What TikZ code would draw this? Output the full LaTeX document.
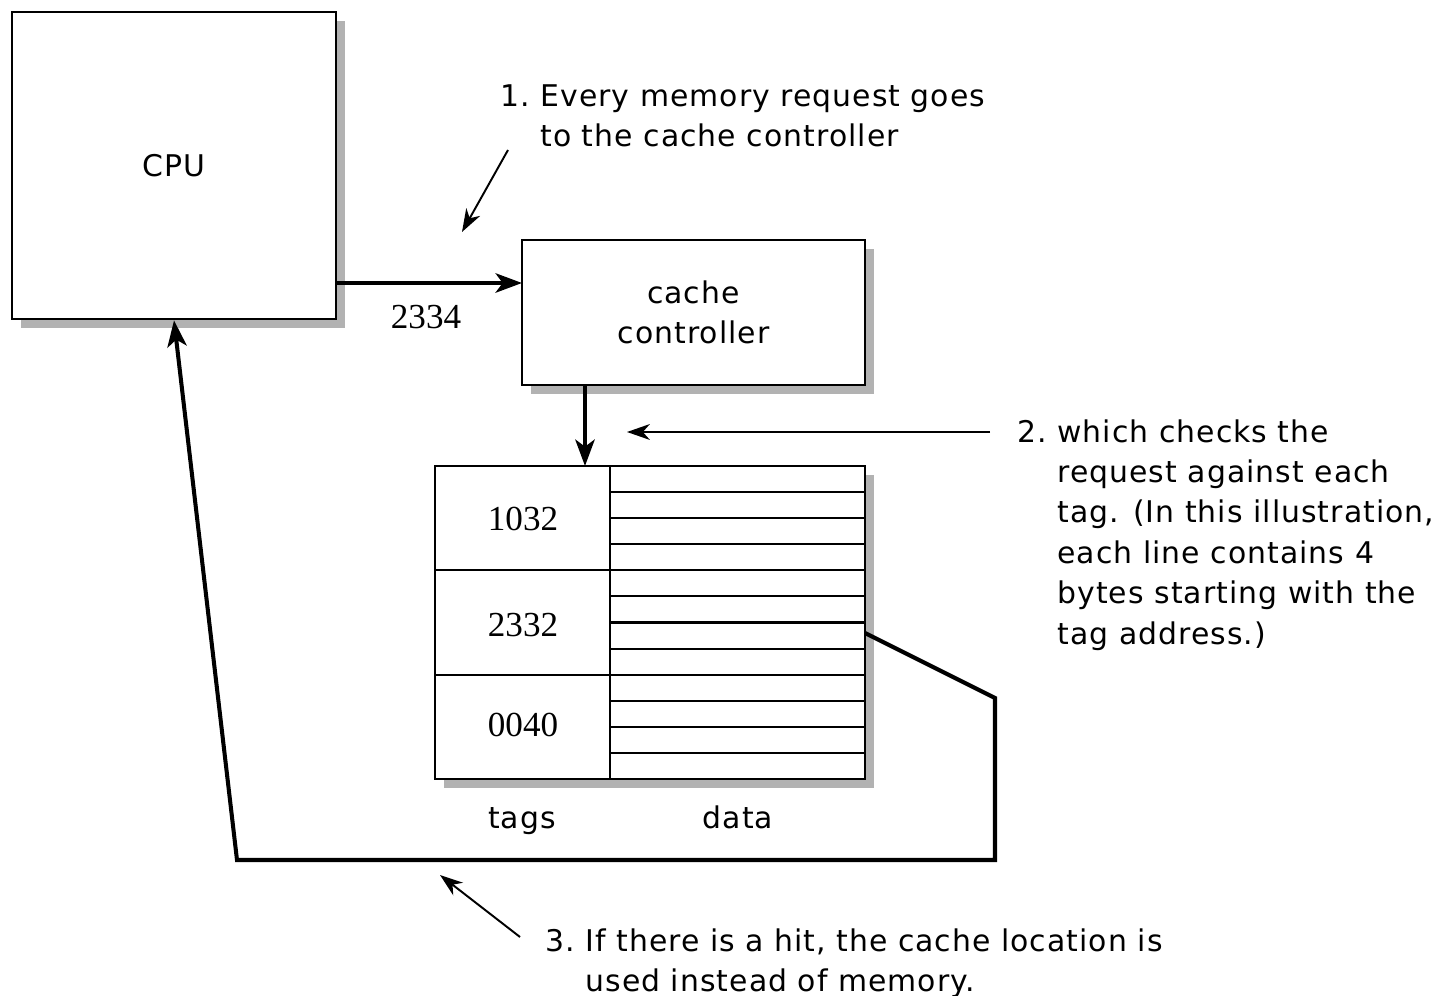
\documentclass[tikz,border=0pt]{standalone}
\usepackage{fontspec}
\setmainfont[LetterSpace=3.5]{DejaVu Sans}
\newfontfamily\numfont{Liberation Serif}
\usetikzlibrary{arrows.meta,shadows}
\newcommand{\ind}[1]{\phantom{#1.~}}

\begin{document}
\begin{tikzpicture}[x=0.02cm, y=-0.02cm,
    every node/.style={font=\fontsize{17}{23}\selectfont},
    box/.style={draw, line width=1.6pt, fill=white, inner sep=0pt,
        drop shadow={shadow xshift=0.18cm, shadow yshift=-0.18cm, fill=gray!60, opacity=1}},
    bus/.style={line width=2.3pt, line join=miter, -{Stealth[length=15pt, width=11pt, inset=4pt]}},
    pointer/.style={line width=1.1pt, -{Stealth[length=13pt, width=9pt, inset=4pt]}},
    note/.style={align=left, inner sep=0pt, anchor=north west},
    num/.style={font=\numfont\fontsize{20}{23}\selectfont}]
\useasboundingbox (0,0) rectangle (1445,996);

\node[box, minimum width=6.48cm, minimum height=6.14cm] (cpu) at (174,165.5) {CPU};
\node[box, minimum width=6.86cm, minimum height=2.9cm, align=center] (ctrl) at (693.5,312.5) {cache\\controller};
\node[box, minimum width=8.6cm, minimum height=6.26cm] (tbl) at (650,622.5) {};

\foreach \k in {1,...,11}
    \draw[line width=1.2pt] (610,466+26.08*\k) -- (865,466+26.08*\k);
\foreach \k in {4,8}
    \draw[line width=1.2pt] (435,466+26.08*\k) -- (610,466+26.08*\k);
\draw[line width=1.6pt] (610,466) -- (610,779);

\node[num] (t1) at (523,519) {1032};
\node[num] (t2) at (523,625) {2332};
\node[num] (t3) at (523,725) {0040};
\node[anchor=base] (tags) at (522,829) {tags};
\node[anchor=base] (data) at (738,829) {data};

\coordinate (cin) at (522,283);
\coordinate (tin) at (585,466);
\draw[bus] (cpu.east |- cin) -- (cin);
\node[num] (addr) at (426,317) {2334};
\draw[bus] (ctrl.south -| tin) -- (tin);

\coordinate (hitout) at (865,633);
\coordinate (b1) at (995,698);
\coordinate (b2) at (995,860);
\coordinate (b3) at (237,860);
\draw[bus] (hitout) -- (b1) -- (b2) -- (b3) -- (cpu.south);

\node[note] (n1) at (500,84) {1.~Every memory request goes\\\ind{1}to the cache controller};
\node[note] (n2) at (1017,419) {2.~which checks the\\\ind{2}request against each\\\ind{2}tag. (In this illustration,\\\ind{2}each line contains 4\\\ind{2}bytes starting with the\\\ind{2}tag address.)};
\node[note] (n3) at (545,928) {3.~If there is a hit, the cache location is\\\ind{3}used instead of memory.};

\coordinate (p1a) at (508,150);
\coordinate (p1b) at (462,232);
\coordinate (p2a) at (990,432);
\coordinate (p2b) at (627,432);
\coordinate (p3a) at (520,937);
\coordinate (p3b) at (440,875);
\draw[pointer] (p1a) -- (p1b);
\draw[pointer] (p2a) -- (p2b);
\draw[pointer] (p3a) -- (p3b);
\end{tikzpicture}
\end{document}
